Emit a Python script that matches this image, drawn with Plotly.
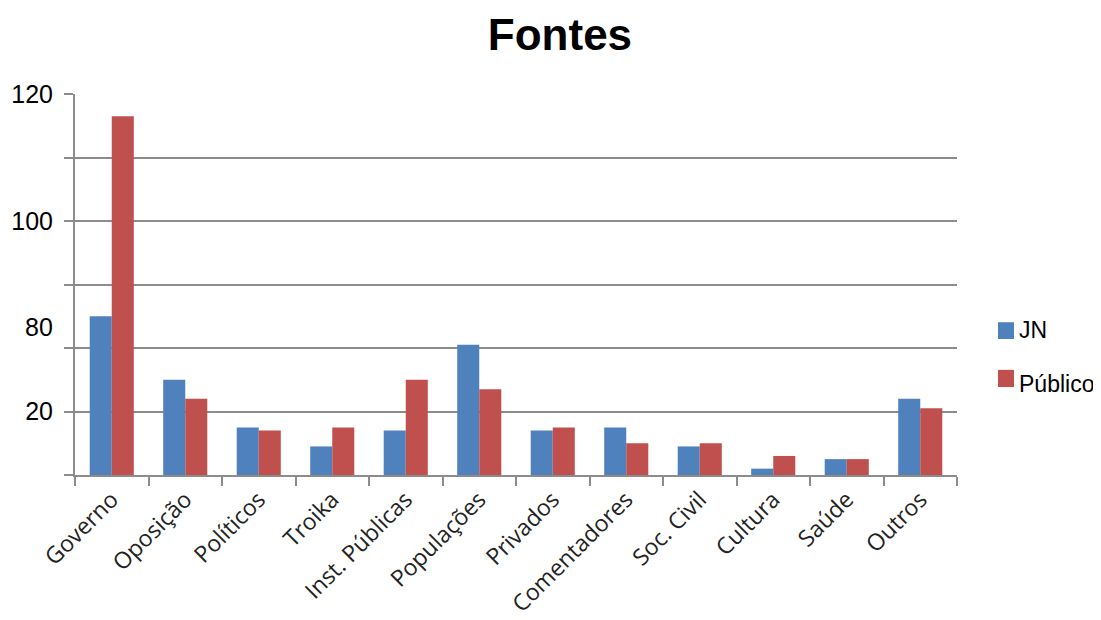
import plotly.graph_objects as go

categories = ["Governo", "Oposição", "Políticos", "Troika", "Inst. Públicas", "Populações",
              "Privados", "Comentadores", "Soc. Civil", "Cultura", "Saúde", "Outros"]
jn = [50, 30, 15, 9, 14, 41, 14, 15, 9, 2, 5, 24]
publico = [113, 24, 14, 15, 30, 27, 15, 10, 10, 6, 5, 21]
series_names = ["JN", "Público"]
series_colors = ["#4F81BD", "#C0504D"]
y_tickvals = [0, 20, 40, 60, 80, 100, 120]
y_ticktext = ["", "20", "", "", "100", "", "120"]
extra_label = "80"
extra_label_y = 46.5

fig = go.Figure()
for name, vals, col in zip(series_names, [jn, publico], series_colors):
    fig.add_trace(go.Bar(name=name, x=categories, y=vals,
                         marker=dict(color=col, line_width=0)))

fig.update_layout(
    width=1093, height=612,
    paper_bgcolor="white", plot_bgcolor="white",
    margin=dict(l=67, r=144, t=86, b=145),
    barmode="group", bargap=0.4, bargroupgap=0,
    title=dict(text="<b>Fontes</b>", x=0.505, xanchor="center", y=0.956, yanchor="middle",
               font=dict(family="Liberation Sans", size=44, color="black")),
    showlegend=False,
)
fig.update_xaxes(
    type="category", showline=True, linecolor="#8C8C8C", linewidth=2,
    ticks="outside", tickson="boundaries", ticklen=9, tickwidth=2, tickcolor="#8C8C8C",
    tickangle=-45, tickfont=dict(family="Open Sans", size=23, color="#222"),
    showgrid=False, automargin=False,
)
fig.update_yaxes(
    range=[0, 120], tickvals=y_tickvals, ticktext=y_ticktext,
    showline=True, linecolor="#8C8C8C", linewidth=2,
    ticks="outside", ticklen=9, tickwidth=2, tickcolor="#8C8C8C",
    showgrid=True, gridcolor="#8C8C8C", gridwidth=2,
    tickfont=dict(family="Liberation Sans, Arial", size=25, color="black"),
    ticklabelstandoff=6,
    zeroline=False, automargin=False,
)
fig.add_annotation(x=0, xref="paper", xanchor="right", xshift=-20, y=extra_label_y, yref="y",
                   text=extra_label, showarrow=False,
                   font=dict(family="Liberation Sans, Arial", size=25, color="black"))

# manual legend (keeps the reference's placement, text running off the right edge)
legend_rows = [(0.401, 0.357, 0.380), (0.276, 0.231, 0.240)]
for (y0, y1, ym), name, col in zip(legend_rows, series_names, series_colors):
    fig.add_shape(type="rect", xref="paper", yref="paper", x0=1.0465, x1=1.0646, y0=y1, y1=y0,
                  fillcolor=col, line_width=0)
    fig.add_annotation(x=1.068, xref="paper", xanchor="left", y=ym, yref="paper", yanchor="middle",
                       text=name, showarrow=False,
                       font=dict(family="Liberation Sans, Arial", size=23, color="black"))

fig.write_html("out.html")
